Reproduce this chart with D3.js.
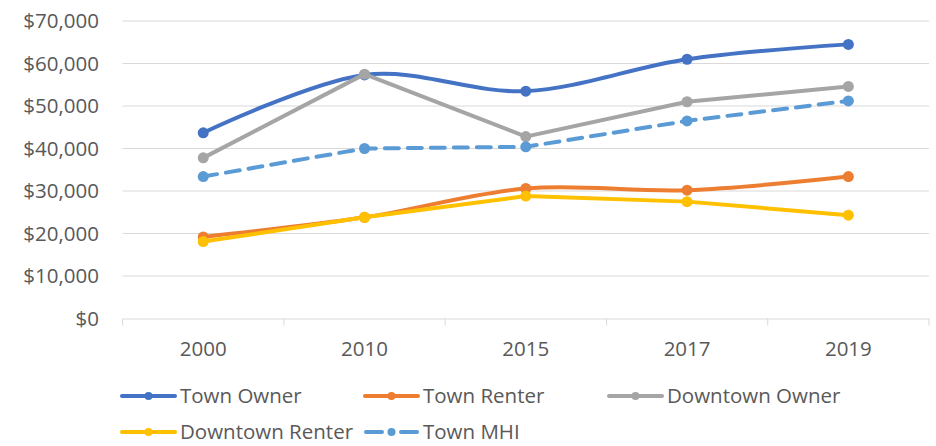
<!DOCTYPE html>
<html>
<head>
<meta charset="utf-8">
<script src="https://cdn.jsdelivr.net/npm/d3@7"></script>
<style>
  html, body { margin: 0; padding: 0; background: #fff; }
  svg { display: block; font-family: "Open Sans", sans-serif; }
</style>
</head>
<body>
<svg id="chart" width="936" height="446"></svg>
<script>
// Income by household type, by year
const years = ["2000", "2010", "2015", "2017", "2019"];
const townOwner      = [43700, 57300, 53500, 61000, 64500];
const townRenter     = [19200, 23800, 30600, 30200, 33400];
const downtownOwner  = [37800, 57500, 42800, 51000, 54600];
const downtownRenter = [18100, 23800, 28800, 27500, 24300];
const townMHI        = [33400, 40000, 40400, 46500, 51200];
const yTicks = [0, 10000, 20000, 30000, 40000, 50000, 60000, 70000];

const series = [
  { name: "Town Owner",      values: townOwner,      color: "#4472C4", smooth: true,  dash: null },
  { name: "Town Renter",     values: townRenter,     color: "#ED7D31", smooth: true,  dash: null },
  { name: "Downtown Owner",  values: downtownOwner,  color: "#A5A5A5", smooth: false, dash: null },
  { name: "Downtown Renter", values: downtownRenter, color: "#FFC000", smooth: false, dash: null },
  { name: "Town MHI",        values: townMHI,        color: "#5B9BD5", smooth: false, dash: "14,9" }
];

const FONT = "20.5px";
const svg = d3.select("#chart");
const plotLeft = 122.6, plotRight = 929, plotTop = 21, plotBottom = 318.5;

const x = d3.scaleBand().domain(years).range([plotLeft, plotRight]);
const y = d3.scaleLinear().domain([0, 70000]).range([plotBottom, plotTop]);

// gridlines
svg.append("g")
  .selectAll("line")
  .data(yTicks.slice(1))
  .join("line")
  .attr("x1", plotLeft).attr("x2", plotRight)
  .attr("y1", d => y(d)).attr("y2", d => y(d))
  .attr("stroke", "#d9d9d9").attr("stroke-width", 1);

// y axis labels
const fmt = d => "$" + d3.format(",")(d);
const yAxis = d3.axisLeft(y).tickValues(yTicks).tickFormat(fmt).tickSize(0).tickPadding(0);
const gy = svg.append("g").attr("transform", "translate(99,0)").call(yAxis);
gy.select(".domain").remove();
gy.selectAll("text").attr("fill", "#595959").style("font-size", FONT).style("font-family", "'Open Sans', sans-serif");

// x axis
const xAxis = d3.axisBottom(x).tickSize(0).tickPadding(0);
const gx = svg.append("g").attr("transform", `translate(0,${plotBottom})`).call(xAxis);
gx.select(".domain").attr("stroke", "#d9d9d9");
gx.selectAll("text").attr("fill", "#595959").attr("dy", 0).attr("y", 37)
  .style("font-size", FONT).style("font-family", "'Open Sans', sans-serif");
// category boundary ticks
const bounds = years.map(d => x(d)).concat([x(years[years.length - 1]) + x.bandwidth()]);
svg.append("g").selectAll("line").data(bounds).join("line")
  .attr("x1", d => d).attr("x2", d => d)
  .attr("y1", plotBottom).attr("y2", plotBottom + 7)
  .attr("stroke", "#d9d9d9").attr("stroke-width", 1);

// lines
const cx = i => x(years[i]) + x.bandwidth() / 2;
const plot = svg.append("g");
series.forEach(s => {
  const line = d3.line()
    .x((d, i) => cx(i))
    .y(d => y(d))
    .curve(s.smooth ? d3.curveCatmullRom.alpha(0) : d3.curveLinear);
  plot.append("path")
    .attr("d", line(s.values))
    .attr("fill", "none")
    .attr("stroke", s.color)
    .attr("stroke-width", 4)
    .attr("stroke-linejoin", "round")
    .attr("stroke-linecap", "round")
    .attr("stroke-dasharray", s.dash);
  plot.append("g").selectAll("circle").data(s.values).join("circle")
    .attr("cx", (d, i) => cx(i))
    .attr("cy", d => y(d))
    .attr("r", 5.5)
    .attr("fill", s.color);
});

// legend
const legendPos = [
  { x: 122, y: 396 }, { x: 365, y: 396 }, { x: 609, y: 396 },
  { x: 122, y: 432 }, { x: 365, y: 432 }
];
const lg = svg.append("g");
series.forEach((s, i) => {
  const p = legendPos[i];
  const g = lg.append("g").attr("transform", `translate(${p.x},${p.y})`);
  if (s.dash) {
    g.append("line").attr("x1", 1).attr("x2", 17).attr("y1", 0).attr("y2", 0)
      .attr("stroke", s.color).attr("stroke-width", 4).attr("stroke-linecap", "round");
    g.append("line").attr("x1", 36).attr("x2", 52).attr("y1", 0).attr("y2", 0)
      .attr("stroke", s.color).attr("stroke-width", 4).attr("stroke-linecap", "round");
  } else {
    g.append("line").attr("x1", 0).attr("x2", 53).attr("y1", 0).attr("y2", 0)
      .attr("stroke", s.color).attr("stroke-width", 4).attr("stroke-linecap", "round");
  }
  g.append("circle").attr("cx", 26.5).attr("cy", 0).attr("r", 4).attr("fill", s.color);
  g.append("text").attr("x", 58).attr("y", 0).attr("dy", "0.35em")
    .attr("fill", "#595959").style("font-size", FONT).text(s.name);
});
</script>
</body>
</html>
